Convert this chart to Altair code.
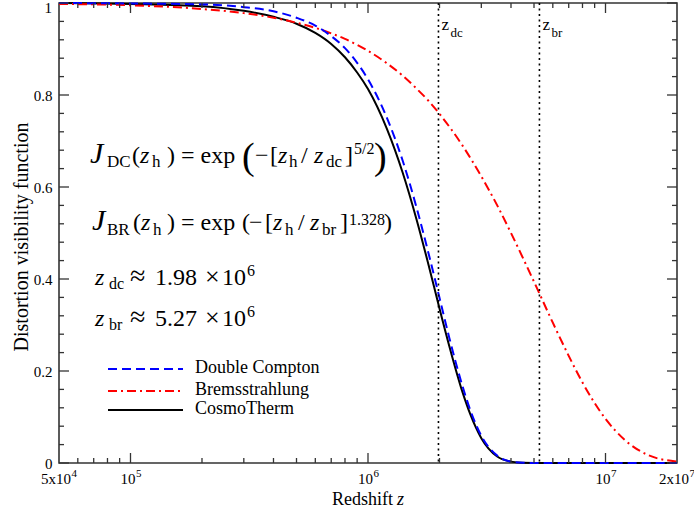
import altair as alt
import pandas as pd

# ---------------- data ----------------
z_dc_grid = [5e4, 1e5, 2e5, 3e5, 4e5, 5e5, 6e5, 7e5, 8e5, 9e5, 1e6, 1.2e6, 1.4e6, 1.6e6,
             1.8e6, 2e6, 2.2e6, 2.5e6, 2.7e6, 3e6, 3.5e6, 4e6, 4.5e6, 5e6, 7e6, 1e7, 2e7]
dc_vals = [1.000, 0.999, 0.997, 0.991, 0.982, 0.968, 0.951, 0.928, 0.902, 0.870, 0.834, 0.751,
           0.657, 0.556, 0.455, 0.359, 0.272, 0.167, 0.114, 0.059, 0.016, 0.003, 0.0004, 0.0,
           0.0, 0.0, 0.0]
ct_vals = [1.000, 0.998, 0.993, 0.983, 0.970, 0.955, 0.935, 0.911, 0.882, 0.849, 0.813, 0.727,
           0.631, 0.530, 0.430, 0.336, 0.254, 0.154, 0.105, 0.054, 0.014, 0.003, 0.0003, 0.0,
           0.0, 0.0, 0.0]
z_br_grid = [5e4, 1e5, 2e5, 3e5, 4e5, 5e5, 6e5, 7e5, 8e5, 9e5, 1e6, 1.2e6, 1.4e6, 1.6e6,
             1.8e6, 2e6, 2.5e6, 3e6, 3.5e6, 4e6, 5e6, 6e6, 7e6, 8e6, 1e7, 1.2e7, 1.5e7, 2e7]
br_vals = [0.998, 0.995, 0.987, 0.978, 0.968, 0.957, 0.946, 0.934, 0.922, 0.909, 0.896, 0.869,
           0.842, 0.814, 0.787, 0.759, 0.690, 0.623, 0.560, 0.500, 0.394, 0.305, 0.233, 0.175,
           0.096, 0.051, 0.018, 0.003]

series_names = ["Double Compton", "Bremsstrahlung", "CosmoTherm"]
vline_z = [1.98e6, 5.27e6]
vline_sub = ["dc", "br"]

x_major_ticks = [1e5, 1e6, 1e7]
x_major_exp = ["5", "6", "7"]
x_edge_vals = [5e4, 2e7]
x_edge_base = ["5x10", "2x10"]
x_edge_exp = ["4", "7"]
x_minor_ticks = [6e4, 7e4, 8e4, 9e4,
                 2e5, 3e5, 4e5, 5e5, 6e5, 7e5, 8e5, 9e5,
                 2e6, 3e6, 4e6, 5e6, 6e6, 7e6, 8e6, 9e6]
y_major_ticks = [0.0, 0.2, 0.4, 0.6, 0.8, 1.0]
y_minor_ticks = [0.04, 0.08, 0.12, 0.16, 0.24, 0.28, 0.32, 0.36, 0.44, 0.48, 0.52, 0.56,
                 0.64, 0.68, 0.72, 0.76, 0.84, 0.88, 0.92, 0.96]

# ---------------- layout / style ----------------
W, H = 618, 460
FONT = "Liberation Serif"
MAJ, MIN = 10, 5
TICK_COLOR = "#333333"

xscale = alt.Scale(type="log", domain=[5e4, 2e7], nice=False)
yscale = alt.Scale(domain=[0, 1], nice=False, zero=True)
yaxis = alt.Axis(values=y_major_ticks,
                 labelExpr="datum.value == 0 ? '0' : (datum.value == 1 ? '' : format(datum.value, '.1f'))",
                 ticks=False, domain=False, grid=False, title=None,
                 labelFont=FONT, labelFontSize=15, labelColor="black", labelPadding=7)


def X(field="z"):
    return alt.X(f"{field}:Q", scale=xscale, axis=None)


def Y(field="J"):
    return alt.Y(f"{field}:Q", scale=yscale, axis=yaxis)


df_dc = pd.DataFrame({"z": z_dc_grid, "J": dc_vals})
df_ct = pd.DataFrame({"z": z_dc_grid, "J": ct_vals})
df_br = pd.DataFrame({"z": z_br_grid, "J": br_vals})

layers = []

# curves
layers.append(alt.Chart(df_ct).mark_line(color="black", strokeWidth=2, interpolate="monotone")
              .encode(x=X(), y=Y()))
layers.append(alt.Chart(df_br).mark_line(color="#ff0000", strokeWidth=2, strokeDash=[9, 4, 2, 4],
                                         interpolate="monotone").encode(x=X(), y=Y()))
layers.append(alt.Chart(df_dc).mark_line(color="#0000ff", strokeWidth=2, strokeDash=[9, 5],
                                         interpolate="monotone").encode(x=X(), y=Y()))

# vertical dotted lines and their labels
df_v = pd.DataFrame({"z": vline_z, "sub": vline_sub})
layers.append(alt.Chart(df_v).mark_rule(color="black", strokeWidth=1.6, strokeDash=[2, 3.5])
              .encode(x=X(), y=alt.value(0), y2=alt.value(H)))
layers.append(alt.Chart(df_v).mark_text(text="z", align="left", baseline="alphabetic", dx=3,
                                        font=FONT, fontSize=17, color="black")
              .encode(x=X(), y=alt.value(27)))
layers.append(alt.Chart(df_v).mark_text(align="left", baseline="alphabetic", dx=12,
                                        font=FONT, fontSize=13, color="black")
              .encode(x=X(), y=alt.value(34), text="sub:N"))

# inward ticks on all four sides
df_xM = pd.DataFrame({"v": x_major_ticks})
df_xm = pd.DataFrame({"v": x_minor_ticks})
df_yM = pd.DataFrame({"v": y_major_ticks})
df_ym = pd.DataFrame({"v": y_minor_ticks})
for df, L in [(df_xM, MAJ), (df_xm, MIN)]:
    layers.append(alt.Chart(df).mark_rule(color=TICK_COLOR, strokeWidth=1.3)
                  .encode(x=X("v"), y=alt.value(H), y2=alt.value(H - L)))
    layers.append(alt.Chart(df).mark_rule(color=TICK_COLOR, strokeWidth=1.3)
                  .encode(x=X("v"), y=alt.value(0), y2=alt.value(L)))
for df, L in [(df_yM, MAJ), (df_ym, MIN)]:
    layers.append(alt.Chart(df).mark_rule(color=TICK_COLOR, strokeWidth=1.3)
                  .encode(y=Y("v"), x=alt.value(0), x2=alt.value(L)))
    layers.append(alt.Chart(df).mark_rule(color=TICK_COLOR, strokeWidth=1.3)
                  .encode(y=Y("v"), x=alt.value(W), x2=alt.value(W - L)))

# x tick labels (base + superscript exponent)
df_xl = pd.DataFrame({"v": x_major_ticks, "e": x_major_exp})
layers.append(alt.Chart(df_xl).mark_text(text="10", align="right", baseline="alphabetic", dx=5,
                                         font=FONT, fontSize=15, color="black")
              .encode(x=X("v"), y=alt.value(481)))
layers.append(alt.Chart(df_xl).mark_text(align="left", baseline="alphabetic", dx=5.5,
                                         font=FONT, fontSize=11, color="black")
              .encode(x=X("v"), y=alt.value(474), text="e:N"))
df_xe = pd.DataFrame({"v": x_edge_vals, "b": x_edge_base, "e": x_edge_exp})
layers.append(alt.Chart(df_xe).mark_text(align="right", baseline="alphabetic", dx=12,
                                         font=FONT, fontSize=15, color="black")
              .encode(x=X("v"), y=alt.value(481), text="b:N"))
layers.append(alt.Chart(df_xe).mark_text(align="left", baseline="alphabetic", dx=12.5,
                                         font=FONT, fontSize=11, color="black")
              .encode(x=X("v"), y=alt.value(474), text="e:N"))

one = pd.DataFrame({"a": [0]})


def seg(text, x, y, size=24, italic=False, align="left", angle=0):
    kw = dict(text=text, align=align, baseline="alphabetic", font=FONT, fontSize=size,
              fontStyle="italic" if italic else "normal", color="black")
    if angle:
        kw["angle"] = angle
    return alt.Chart(one).mark_text(**kw).encode(x=alt.value(x), y=alt.value(y))


# top y label "1" (kept inside the page)
layers.append(seg("1", -7, 10, 15, align="right"))

# axis titles
layers.append(seg("Redshift", 334, 502, 18, align="right"))
layers.append(seg("z", 338, 502, 18, italic=True))
layers.append(seg("Distortion visibility function", -31, 234, 20, align="center", angle=270))

# equation 1
b, sb, sp = 160, 164, 151
layers += [
    seg("J", 31, b, 30, italic=True), seg("DC", 48, sb, 17),
    seg("(", 73, b), seg("z", 81, b, italic=True), seg("h", 93, sb, 17),
    seg(") = exp", 108, b),
    seg("(", 183, 166, 38), seg("\u2212", 196, b), seg("[", 211, b),
    seg("z", 219, b, italic=True), seg("h", 230, sb, 17), seg("/", 242, b),
    seg("z", 255, b, italic=True), seg("dc", 267, sb, 17), seg("]", 286, b),
    seg("5/2", 295, sp, 16), seg(")", 315, 166, 38),
]
# equation 2
b, sb, sp = 227, 232, 222
layers += [
    seg("J", 33, b, 30, italic=True), seg("BR", 48, sb, 17),
    seg("(", 74, b), seg("z", 82, b, italic=True), seg("h", 94, sb, 17),
    seg(") = exp", 108, b),
    seg("(", 183, b), seg("\u2212", 190, b), seg("[", 206, b),
    seg("z", 214, b, italic=True), seg("h", 226, sb, 17), seg("/", 239, b),
    seg("z", 251, b, italic=True), seg("br", 263, sb, 17), seg("]", 281, b),
    seg("1.328", 290, sp, 16), seg(")", 325, b),
]
# z_dc and z_br values
for (sub, num, b) in [("dc", "1.98", 282), ("br", "5.27", 323)]:
    layers += [
        seg("z", 36, b, italic=True), seg(sub, 50, b + 4, 16),
        seg("\u2248", 71, b, 28), seg(num, 96, b), seg("\u00d7", 146, b, 26),
        seg("10", 163, b), seg("6", 188, b - 9, 16),
    ]

# legend (drawn manually)
leg_rows = [366, 388, 407]
leg_styles = [dict(color="#0000ff", strokeDash=[9, 5]),
              dict(color="#ff0000", strokeDash=[9, 4, 2, 4]),
              dict(color="black")]
for name, yy, st in zip(series_names, leg_rows, leg_styles):
    dfl = pd.DataFrame({"s": [name]})
    layers.append(alt.Chart(dfl).mark_rule(strokeWidth=2, **st)
                  .encode(x=alt.value(49), x2=alt.value(124), y=alt.value(yy)))
    layers.append(alt.Chart(dfl).mark_text(align="left", baseline="alphabetic", font=FONT,
                                           fontSize=18, color="black")
                  .encode(x=alt.value(136), y=alt.value(yy + 4), text="s:N"))

chart = alt.layer(*layers).properties(
    width=W, height=H,
    padding={"left": 59, "top": 3, "right": 17, "bottom": 50},
    autosize=alt.AutoSizeParams(type="none"),
    background="white",
).configure_view(stroke="#333333", strokeWidth=1.6)

chart.save("out.html", embed_options={"renderer": "svg", "actions": False})
